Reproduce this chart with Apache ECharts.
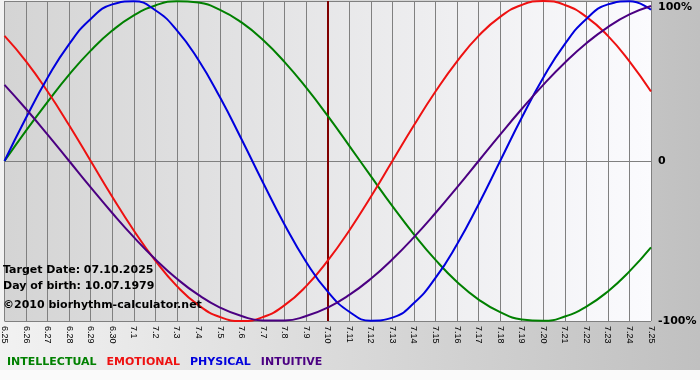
<!DOCTYPE html>
<html>
<head>
<meta charset="utf-8">
<script src="https://cdn.jsdelivr.net/npm/echarts@6/dist/echarts.min.js"></script>
<style>
  html, body { margin: 0; padding: 0; }
  #chart { width: 700px; height: 380px; }
</style>
</head>
<body>
<div id="chart"></div>
<script>
// days shown on the x axis
const days = ['6.25', '6.26', '6.27', '6.28', '6.29', '6.30', '7.1', '7.2', '7.3', '7.4', '7.5', '7.6', '7.7', '7.8', '7.9', '7.10',
  '7.11', '7.12', '7.13', '7.14', '7.15', '7.16', '7.17', '7.18', '7.19', '7.20', '7.21', '7.22', '7.23', '7.24', '7.25'];
const targetDay = '7.10';

// values, -1 .. 1
const intellectual = [0, 0.19, 0.37, 0.54, 0.69, 0.815, 0.91, 0.972, 0.999, 0.99, 0.945, 0.866, 0.756, 0.618, 0.458, 0.282,
  0.095, -0.095, -0.282, -0.458, -0.618, -0.756, -0.866, -0.945, -0.99, -0.999, -0.972, -0.91, -0.815, -0.69, -0.54];
const emotional = [0.782, 0.623, 0.434, 0.223, 0, -0.223, -0.434, -0.623, -0.782, -0.901, -0.975, -1, -0.975, -0.901, -0.782, -0.623,
  -0.434, -0.223, 0, 0.223, 0.434, 0.623, 0.782, 0.901, 0.975, 1, 0.975, 0.901, 0.782, 0.623, 0.434];
const physical = [0, 0.27, 0.52, 0.731, 0.888, 0.979, 0.998, 0.942, 0.817, 0.631, 0.398, 0.136, -0.136, -0.398, -0.631, -0.817,
  -0.942, -0.998, -0.979, -0.888, -0.731, -0.52, -0.27, 0, 0.27, 0.52, 0.731, 0.888, 0.979, 0.998, 0.945];
const intuitive = [0.476, 0.325, 0.165, 0, -0.165, -0.325, -0.476, -0.614, -0.736, -0.837, -0.916, -0.969, -0.997, -0.997, -0.969, -0.916,
  -0.837, -0.736, -0.614, -0.476, -0.325, -0.165, 0, 0.165, 0.325, 0.476, 0.614, 0.736, 0.837, 0.916, 0.969];

const infoLines = ['Target Date: 07.10.2025', 'Day of birth: 10.07.1979', '\u00a92010 biorhythm-calculator.net'];

const font = '"DejaVu Sans", Verdana, sans-serif';
const gridColor = '#808080';
const names = ['INTELLECTUAL', 'EMOTIONAL', 'PHYSICAL', 'INTUITIVE'];
const colors = ['#008000', '#ee1111', '#0000dd', '#4b0082'];
const values = [intellectual, emotional, physical, intuitive];

const chart = echarts.init(document.getElementById('chart'));

const series = names.map((name, i) => ({
  name: name,
  type: 'line',
  data: values[i],
  smooth: true,
  symbol: 'none',
  lineStyle: { color: colors[i], width: 2 },
  itemStyle: { color: colors[i] },
  z: 3,
}));
// the target day marker
series[0].markLine = {
  silent: true,
  symbol: 'none',
  label: { show: false },
  lineStyle: { color: '#800000', width: 2, type: 'solid' },
  data: [{ xAxis: targetDay }],
  z: 2,
};

chart.setOption({
  animation: false,
  textStyle: { fontFamily: font },
  graphic: [
    {
      type: 'rect', z: -10, silent: true,
      shape: { x: 0, y: 0, width: 700, height: 370 },
      style: {
        fill: new echarts.graphic.LinearGradient(0, 0, 1, 0, [
          { offset: 0, color: '#f2f2f2' },
          { offset: 1, color: '#c0c0c0' },
        ]),
      },
    },
    {
      type: 'rect', z: -10, silent: true,
      shape: { x: 0, y: 370, width: 700, height: 10 },
      style: { fill: '#fafafa' },
    },
  ].concat(infoLines.map((t, i) => ({
    type: 'text',
    z: 10,
    silent: true,
    left: 3,
    top: [265, 281, 300][i],
    style: { text: t, font: 'bold 11px ' + font, fill: '#000' },
  }))),
  legend: {
    left: 2,
    top: 355,
    padding: 0,
    itemWidth: 0,
    itemHeight: 14,
    itemGap: 5,
    selectedMode: false,
    icon: 'none',
    data: names.map((n, i) => ({ name: n, textStyle: { color: colors[i], fontWeight: 'bold', fontSize: 11, fontFamily: font } })),
  },
  grid: {
    left: 0,
    top: 1,
    width: 651,
    height: 320,
    show: true,
    borderWidth: 0,
    backgroundColor: new echarts.graphic.LinearGradient(0, 0, 1, 0, [
      { offset: 0, color: '#d4d4d4' },
      { offset: 1, color: '#fbfbfe' },
    ]),
  },
  xAxis: {
    type: 'category',
    data: days,
    boundaryGap: false,
    axisLine: { show: true, lineStyle: { color: gridColor, width: 1 } },
    axisTick: { show: true, length: 3, interval: 0, lineStyle: { color: gridColor } },
    splitLine: { show: true, interval: 0, lineStyle: { color: gridColor, width: 1 } },
    axisLabel: {
      interval: 0,
      rotate: -90,
      margin: 5,
      color: '#000',
      fontSize: 9,
      fontFamily: 'Liberation Sans, Arial, sans-serif',
      hideOverlap: false,
    },
  },
  yAxis: {
    type: 'value',
    position: 'right',
    min: -1,
    max: 1,
    interval: 1,
    axisLine: { show: false },
    axisTick: { show: false },
    splitLine: { show: true, lineStyle: { color: gridColor, width: 1 } },
    axisLabel: {
      margin: 7,
      color: '#000',
      fontSize: 11,
      fontWeight: 'bold',
      fontFamily: font,
      formatter: v => (v === 1 ? '{t|100%}' : v === 0 ? '0' : '-100%'),
      rich: {
        t: { padding: [12, 0, 0, 0], color: '#000', fontSize: 11, fontWeight: 'bold', fontFamily: font },
      },
    },
  },
  series: series,
});
</script>
</body>
</html>
